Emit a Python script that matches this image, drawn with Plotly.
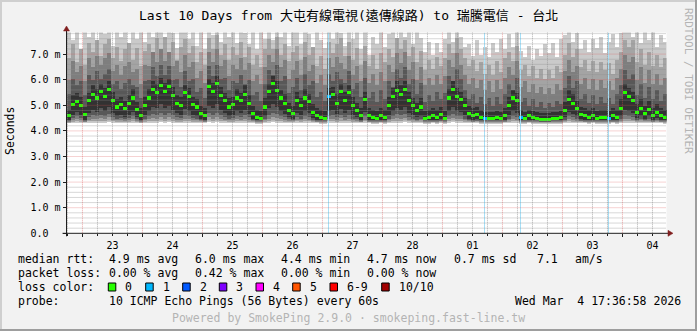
import numpy as np
import pandas as pd
import plotly.graph_objects as go

# ---------------- data ----------------
T_START = "2026-02-22 17:36:58"
T_END = "2026-03-04 17:36:58"
N_STEPS = 150
STEP_MIN = 96

median_ms = [
    4.60, 5.05, 5.15, 5.00, 4.65, 5.20, 5.45, 5.30, 5.55, 5.35,
    5.65, 5.20, 4.95, 5.05, 4.90, 5.10, 5.30, 4.85, 4.60, 5.00,
    5.30, 5.65, 5.50, 5.80, 5.55, 5.75, 5.40, 5.10, 5.00, 5.50,
    5.35, 5.05, 4.95, 4.70, 4.60, 5.75, 5.55, 5.85, 5.40, 5.20,
    4.95, 5.05, 5.30, 5.20, 5.45, 5.10, 4.70, 4.55, 4.50, 4.95,
    5.55, 5.85, 5.60, 5.30, 5.10, 4.80, 4.70, 5.20, 5.00, 5.30,
    5.15, 4.75, 4.60, 4.55, 4.50, 5.35, 5.45, 5.10, 5.55, 5.20,
    5.50, 5.00, 4.80, 4.60, 5.25, 4.60, 4.55, 4.50, 4.60, 4.55,
    5.00, 5.35, 5.60, 5.45, 5.65, 5.20, 5.00, 4.80, 4.95, 4.50,
    4.55, 4.60, 4.55, 4.65, 4.50, 5.30, 5.65, 5.35, 5.25, 5.00,
    4.70, 4.60, 4.65, 4.55, 4.50, 4.50, 4.50, 4.55, 4.50, 4.60,
    5.00, 5.30, 5.20, 4.55, 4.50, 4.60, 4.55, 4.50, 4.45, 4.45,
    4.45, 4.50, 4.50, 4.55, 4.80, 5.25, 5.10, 4.90, 4.65, 4.60,
    4.55, 4.60, 4.50, 4.55, 4.55, 4.50, 4.60, 4.55, 4.90, 5.50,
    5.35, 5.20, 4.75, 4.90, 4.70, 4.85, 4.60, 4.75, 4.60, 4.55,
]

loss_count = [
    0, 0, 0, 0, 0, 0, 0, 0, 0, 0,
    0, 0, 0, 0, 0, 0, 0, 0, 0, 0,
    0, 0, 0, 0, 0, 0, 0, 0, 0, 0,
    0, 0, 0, 0, 0, 0, 0, 0, 0, 0,
    0, 0, 0, 0, 0, 0, 0, 0, 0, 0,
    0, 0, 0, 0, 0, 0, 0, 0, 0, 0,
    0, 0, 0, 0, 0, 1, 0, 0, 0, 0,
    0, 0, 0, 0, 0, 0, 0, 0, 0, 0,
    0, 0, 0, 0, 0, 0, 0, 0, 0, 0,
    0, 0, 0, 0, 0, 0, 0, 0, 0, 0,
    0, 0, 0, 0, 1, 0, 0, 0, 0, 0,
    0, 0, 0, 1, 0, 0, 0, 0, 0, 0,
    0, 0, 0, 0, 0, 0, 0, 0, 0, 0,
    0, 0, 0, 0, 0, 1, 0, 0, 0, 0,
    0, 0, 0, 0, 0, 0, 0, 0, 0, 0,
]

# sorted ping rtts (ms): ping1 (fastest) ... ping10 (slowest)
ping1 = [
    4.31, 4.32, 4.33, 4.32, 4.31, 4.33, 4.34, 4.33, 4.34, 4.33,
    4.35, 4.33, 4.32, 4.32, 4.32, 4.32, 4.33, 4.32, 4.31, 4.32,
    4.33, 4.34, 4.34, 4.35, 4.34, 4.35, 4.33, 4.32, 4.32, 4.34,
    4.33, 4.32, 4.32, 4.31, 4.31, 4.35, 4.34, 4.35, 4.33, 4.33,
    4.32, 4.32, 4.33, 4.33, 4.34, 4.32, 4.31, 4.30, 4.30, 4.32,
    4.34, 4.35, 4.34, 4.33, 4.32, 4.32, 4.31, 4.33, 4.32, 4.33,
    4.33, 4.31, 4.31, 4.30, 4.30, 4.33, 4.34, 4.32, 4.34, 4.33,
    4.34, 4.32, 4.31, 4.31, 4.33, 4.31, 4.30, 4.30, 4.31, 4.30,
    4.32, 4.33, 4.34, 4.34, 4.35, 4.33, 4.32, 4.31, 4.32, 4.30,
    4.30, 4.31, 4.30, 4.31, 4.30, 4.33, 4.35, 4.33, 4.33, 4.32,
    4.31, 4.31, 4.31, 4.30, 4.30, 4.30, 4.30, 4.30, 4.30, 4.31,
    4.32, 4.33, 4.33, 4.30, 4.30, 4.31, 4.30, 4.30, 4.29, 4.29,
    4.29, 4.30, 4.30, 4.30, 4.31, 4.33, 4.32, 4.32, 4.31, 4.31,
    4.30, 4.31, 4.30, 4.30, 4.30, 4.30, 4.31, 4.30, 4.32, 4.34,
    4.34, 4.33, 4.31, 4.32, 4.31, 4.32, 4.31, 4.31, 4.31, 4.30,
]
ping2 = [
    4.34, 4.38, 4.40, 4.38, 4.35, 4.39, 4.41, 4.40, 4.42, 4.40,
    4.43, 4.39, 4.37, 4.38, 4.37, 4.38, 4.40, 4.37, 4.34, 4.37,
    4.40, 4.42, 4.41, 4.44, 4.41, 4.43, 4.40, 4.38, 4.38, 4.41,
    4.40, 4.38, 4.37, 4.36, 4.35, 4.43, 4.41, 4.44, 4.40, 4.39,
    4.37, 4.38, 4.40, 4.39, 4.41, 4.38, 4.36, 4.34, 4.34, 4.37,
    4.41, 4.44, 4.42, 4.40, 4.38, 4.37, 4.36, 4.39, 4.37, 4.40,
    4.39, 4.36, 4.35, 4.34, 4.34, 4.40, 4.41, 4.38, 4.42, 4.39,
    4.41, 4.37, 4.36, 4.35, 4.39, 4.35, 4.34, 4.34, 4.35, 4.34,
    4.37, 4.40, 4.42, 4.41, 4.43, 4.39, 4.37, 4.36, 4.37, 4.34,
    4.34, 4.35, 4.34, 4.35, 4.34, 4.40, 4.43, 4.40, 4.39, 4.37,
    4.36, 4.35, 4.35, 4.34, 4.34, 4.34, 4.34, 4.34, 4.34, 4.35,
    4.37, 4.40, 4.39, 4.34, 4.33, 4.35, 4.34, 4.33, 4.33, 4.33,
    4.33, 4.34, 4.34, 4.34, 4.36, 4.39, 4.38, 4.37, 4.35, 4.35,
    4.34, 4.35, 4.34, 4.34, 4.34, 4.34, 4.35, 4.34, 4.37, 4.41,
    4.40, 4.39, 4.36, 4.37, 4.35, 4.37, 4.35, 4.36, 4.35, 4.34,
]
ping3 = [
    4.37, 4.44, 4.47, 4.44, 4.38, 4.46, 4.50, 4.47, 4.52, 4.48,
    4.54, 4.46, 4.43, 4.45, 4.42, 4.45, 4.47, 4.42, 4.37, 4.43,
    4.48, 4.52, 4.50, 4.55, 4.50, 4.54, 4.49, 4.45, 4.44, 4.50,
    4.48, 4.44, 4.43, 4.40, 4.38, 4.54, 4.50, 4.55, 4.48, 4.46,
    4.43, 4.44, 4.48, 4.46, 4.49, 4.45, 4.40, 4.37, 4.37, 4.43,
    4.50, 4.55, 4.52, 4.48, 4.45, 4.42, 4.40, 4.46, 4.43, 4.48,
    4.46, 4.41, 4.38, 4.37, 4.37, 4.48, 4.50, 4.45, 4.51, 4.46,
    4.49, 4.43, 4.41, 4.38, 4.46, 4.38, 4.37, 4.37, 4.38, 4.37,
    4.43, 4.48, 4.51, 4.49, 4.52, 4.46, 4.43, 4.41, 4.43, 4.37,
    4.37, 4.38, 4.37, 4.39, 4.37, 4.48, 4.52, 4.48, 4.47, 4.43,
    4.40, 4.38, 4.39, 4.37, 4.36, 4.36, 4.36, 4.37, 4.36, 4.38,
    4.43, 4.48, 4.46, 4.37, 4.36, 4.38, 4.37, 4.36, 4.35, 4.35,
    4.35, 4.36, 4.36, 4.37, 4.41, 4.47, 4.45, 4.42, 4.39, 4.38,
    4.37, 4.38, 4.36, 4.37, 4.37, 4.36, 4.38, 4.37, 4.42, 4.49,
    4.48, 4.46, 4.40, 4.43, 4.39, 4.42, 4.38, 4.40, 4.38, 4.37,
]
ping4 = [
    4.40, 4.52, 4.58, 4.52, 4.41, 4.55, 4.62, 4.58, 4.65, 4.60,
    4.68, 4.55, 4.50, 4.52, 4.48, 4.52, 4.58, 4.48, 4.40, 4.50,
    4.60, 4.68, 4.65, 4.72, 4.65, 4.70, 4.62, 4.55, 4.52, 4.65,
    4.60, 4.52, 4.50, 4.44, 4.41, 4.70, 4.65, 4.72, 4.62, 4.56,
    4.50, 4.52, 4.60, 4.56, 4.62, 4.54, 4.44, 4.40, 4.40, 4.50,
    4.65, 4.72, 4.68, 4.60, 4.54, 4.48, 4.44, 4.56, 4.50, 4.60,
    4.56, 4.46, 4.41, 4.40, 4.40, 4.60, 4.62, 4.54, 4.65, 4.56,
    4.62, 4.50, 4.47, 4.41, 4.58, 4.41, 4.40, 4.40, 4.41, 4.40,
    4.50, 4.60, 4.66, 4.62, 4.68, 4.56, 4.50, 4.46, 4.50, 4.40,
    4.40, 4.41, 4.40, 4.42, 4.40, 4.60, 4.68, 4.60, 4.58, 4.50,
    4.44, 4.41, 4.42, 4.40, 4.39, 4.39, 4.39, 4.40, 4.39, 4.41,
    4.50, 4.60, 4.56, 4.40, 4.39, 4.41, 4.40, 4.39, 4.37, 4.37,
    4.37, 4.39, 4.39, 4.40, 4.46, 4.58, 4.54, 4.48, 4.42, 4.41,
    4.40, 4.41, 4.39, 4.40, 4.40, 4.39, 4.41, 4.40, 4.48, 4.62,
    4.60, 4.56, 4.45, 4.50, 4.44, 4.48, 4.41, 4.44, 4.41, 4.40,
]
ping5 = [
    4.45, 4.65, 4.75, 4.65, 4.46, 4.70, 4.85, 4.75, 4.90, 4.80,
    4.95, 4.70, 4.60, 4.65, 4.55, 4.65, 4.75, 4.55, 4.45, 4.62,
    4.78, 4.95, 4.90, 5.05, 4.90, 5.00, 4.85, 4.70, 4.65, 4.88,
    4.80, 4.65, 4.60, 4.50, 4.46, 5.00, 4.90, 5.05, 4.85, 4.72,
    4.60, 4.65, 4.80, 4.72, 4.85, 4.68, 4.50, 4.45, 4.44, 4.60,
    4.90, 5.05, 4.95, 4.78, 4.68, 4.55, 4.50, 4.72, 4.62, 4.78,
    4.70, 4.52, 4.46, 4.45, 4.44, 4.78, 4.85, 4.68, 4.88, 4.72,
    4.85, 4.62, 4.55, 4.46, 4.75, 4.46, 4.45, 4.44, 4.46, 4.45,
    4.62, 4.78, 4.92, 4.85, 4.95, 4.72, 4.62, 4.55, 4.60, 4.44,
    4.45, 4.46, 4.45, 4.48, 4.44, 4.78, 4.95, 4.80, 4.75, 4.62,
    4.50, 4.46, 4.48, 4.45, 4.43, 4.43, 4.43, 4.45, 4.43, 4.46,
    4.62, 4.78, 4.72, 4.45, 4.43, 4.46, 4.45, 4.43, 4.40, 4.40,
    4.40, 4.43, 4.43, 4.45, 4.55, 4.75, 4.68, 4.58, 4.48, 4.46,
    4.45, 4.46, 4.43, 4.45, 4.45, 4.43, 4.46, 4.45, 4.58, 4.85,
    4.78, 4.72, 4.52, 4.60, 4.50, 4.58, 4.46, 4.52, 4.46, 4.45,
]
ping6 = [
    4.85, 5.40, 5.50, 5.35, 4.95, 5.50, 5.80, 5.65, 5.85, 5.70,
    5.95, 5.55, 5.25, 5.35, 5.20, 5.40, 5.65, 5.15, 4.90, 5.35,
    5.65, 5.95, 5.85, 6.10, 5.90, 6.05, 5.75, 5.40, 5.35, 5.80,
    5.70, 5.35, 5.25, 5.00, 4.90, 6.05, 5.90, 6.15, 5.75, 5.50,
    5.30, 5.35, 5.65, 5.50, 5.80, 5.40, 5.00, 4.85, 4.80, 5.30,
    5.85, 6.15, 5.95, 5.60, 5.45, 5.10, 5.00, 5.55, 5.30, 5.65,
    5.45, 5.05, 4.90, 4.85, 4.80, 5.70, 5.75, 5.45, 5.85, 5.55,
    5.80, 5.35, 5.10, 4.90, 5.55, 4.90, 4.85, 4.80, 4.90, 4.85,
    5.35, 5.70, 5.95, 5.80, 5.95, 5.55, 5.30, 5.10, 5.30, 4.80,
    4.85, 4.90, 4.85, 4.95, 4.80, 5.65, 5.95, 5.70, 5.55, 5.30,
    5.00, 4.90, 4.95, 4.85, 4.75, 4.75, 4.75, 4.80, 4.75, 4.90,
    5.35, 5.60, 5.50, 4.85, 4.75, 4.85, 4.80, 4.75, 4.70, 4.70,
    4.70, 4.75, 4.75, 4.80, 5.15, 5.60, 5.45, 5.20, 4.95, 4.90,
    4.85, 4.90, 4.80, 4.85, 4.85, 4.80, 4.90, 4.85, 5.25, 5.85,
    5.70, 5.55, 5.05, 5.25, 5.00, 5.20, 4.90, 5.05, 4.90, 4.85,
]
ping7 = [
    5.45, 6.05, 5.80, 5.95, 5.40, 6.20, 6.00, 6.35, 6.05, 6.25,
    6.45, 5.85, 5.95, 5.65, 5.90, 6.05, 5.80, 5.75, 5.30, 5.95,
    6.00, 6.50, 6.15, 6.60, 6.20, 6.55, 6.00, 6.05, 5.75, 6.35,
    5.95, 6.05, 5.55, 5.70, 5.30, 6.55, 6.15, 6.60, 6.05, 6.10,
    5.60, 5.95, 5.90, 6.20, 5.85, 6.00, 5.40, 5.55, 5.20, 5.85,
    6.40, 6.20, 6.60, 5.95, 6.15, 5.50, 5.75, 6.10, 5.60, 6.25,
    5.80, 5.95, 5.35, 5.55, 5.20, 6.25, 5.95, 6.30, 6.05, 5.90,
    6.35, 5.65, 5.90, 5.35, 6.10, 5.30, 5.55, 5.15, 5.60, 5.25,
    5.95, 5.75, 6.45, 6.10, 6.50, 5.85, 6.05, 5.45, 5.90, 5.15,
    5.40, 5.20, 5.55, 5.25, 5.50, 6.15, 5.95, 6.45, 6.05, 5.60,
    5.25, 5.45, 5.10, 5.35, 5.05, 5.30, 5.00, 5.35, 5.05, 5.45,
    5.85, 5.60, 6.10, 5.15, 5.30, 5.00, 5.25, 4.95, 5.15, 4.90,
    5.10, 4.95, 5.20, 5.05, 5.70, 6.15, 5.70, 5.95, 5.25, 5.45,
    5.10, 5.40, 5.05, 5.35, 5.10, 5.30, 5.05, 5.45, 5.80, 6.40,
    6.05, 6.25, 5.40, 5.85, 5.30, 5.75, 5.25, 5.60, 5.20, 5.45,
]
ping8 = [
    6.00, 6.75, 6.30, 6.55, 5.95, 6.85, 6.50, 6.95, 6.60, 6.85,
    7.05, 6.35, 6.60, 6.20, 6.55, 6.70, 6.30, 6.45, 5.85, 6.60,
    6.55, 7.10, 6.70, 7.20, 6.75, 7.10, 6.55, 6.75, 6.30, 7.00,
    6.50, 6.70, 6.10, 6.35, 5.90, 7.10, 6.70, 7.20, 6.55, 6.80,
    6.15, 6.60, 6.45, 6.85, 6.40, 6.65, 5.95, 6.20, 5.85, 6.50,
    7.00, 6.70, 7.20, 6.50, 6.80, 6.05, 6.40, 6.75, 6.20, 6.90,
    6.35, 6.60, 5.90, 6.20, 5.80, 6.85, 6.50, 6.90, 6.65, 6.45,
    6.95, 6.20, 6.55, 5.95, 6.75, 5.90, 6.25, 5.80, 6.30, 5.95,
    6.60, 6.30, 7.05, 6.65, 7.10, 6.40, 6.70, 6.00, 6.50, 5.80,
    6.10, 5.80, 6.20, 5.85, 6.15, 6.80, 6.50, 7.05, 6.60, 6.20,
    5.85, 6.10, 5.70, 6.00, 5.60, 5.95, 5.55, 6.00, 5.65, 6.10,
    6.50, 6.20, 6.75, 5.75, 5.95, 5.55, 5.85, 5.50, 5.75, 5.45,
    5.70, 5.45, 5.85, 5.60, 6.35, 6.80, 6.30, 6.55, 5.85, 6.10,
    5.65, 6.05, 5.60, 6.00, 5.70, 5.95, 5.60, 6.10, 6.45, 7.00,
    6.70, 6.90, 6.00, 6.50, 5.90, 6.40, 5.85, 6.25, 5.80, 6.10,
]
ping9 = [
    6.85, 7.40, 6.70, 7.20, 6.60, 7.45, 7.10, 7.55, 6.95, 7.40,
    7.60, 6.85, 7.30, 6.75, 7.20, 7.45, 6.80, 7.25, 6.55, 7.15,
    7.40, 7.00, 7.65, 7.20, 7.70, 7.10, 7.50, 6.80, 7.30, 7.60,
    7.05, 7.35, 6.70, 7.10, 6.60, 7.65, 7.20, 7.75, 7.00, 7.40,
    6.80, 7.30, 7.00, 7.50, 6.90, 7.30, 6.60, 7.00, 6.50, 7.20,
    7.60, 7.20, 7.70, 7.00, 7.40, 6.75, 7.10, 7.35, 6.80, 7.50,
    7.00, 7.30, 6.55, 6.95, 6.45, 7.50, 7.05, 7.40, 7.65, 6.95,
    7.50, 6.80, 7.25, 6.60, 7.35, 6.55, 7.00, 6.45, 7.05, 6.70,
    7.20, 6.90, 7.65, 7.20, 7.55, 6.95, 7.30, 6.70, 7.15, 6.40,
    6.80, 6.45, 6.90, 6.55, 6.85, 7.40, 7.05, 7.65, 7.20, 6.85,
    6.55, 6.80, 6.35, 6.70, 6.25, 6.60, 6.20, 6.75, 6.30, 6.85,
    7.10, 6.75, 7.35, 6.40, 6.60, 6.15, 6.55, 6.10, 6.45, 6.05,
    6.40, 6.10, 6.55, 6.30, 7.00, 7.45, 6.90, 7.20, 6.50, 6.80,
    6.35, 6.75, 6.30, 6.70, 6.40, 6.65, 6.25, 6.80, 7.10, 7.55,
    7.30, 7.55, 6.70, 7.20, 6.60, 7.10, 6.55, 7.00, 6.50, 6.85,
]
ping10 = [
    8.10, 7.55, 8.00, 7.20, 8.10, 7.70, 8.20, 7.45, 8.05, 7.80,
    8.10, 7.35, 7.95, 7.70, 8.00, 7.30, 7.95, 7.60, 8.10, 7.50,
    8.20, 7.70, 8.10, 8.30, 7.40, 8.00, 7.85, 7.25, 7.95, 8.05,
    7.60, 8.05, 7.35, 7.90, 7.20, 8.10, 7.75, 8.20, 7.50, 7.95,
    7.70, 8.00, 7.45, 8.05, 7.85, 7.40, 8.00, 7.20, 7.90, 7.60,
    8.10, 7.55, 8.20, 7.70, 8.00, 7.35, 7.90, 8.05, 7.40, 7.95,
    7.80, 7.30, 8.00, 7.55, 7.25, 8.00, 7.60, 8.10, 7.85, 7.35,
    8.00, 7.60, 7.95, 7.20, 7.90, 7.00, 7.70, 7.40, 7.95, 7.30,
    7.80, 8.10, 7.55, 8.20, 7.70, 8.05, 7.40, 7.90, 7.65, 7.10,
    7.50, 7.00, 7.45, 7.10, 7.60, 8.00, 7.50, 8.05, 7.70, 7.30,
    7.40, 6.95, 7.55, 7.00, 7.30, 6.90, 7.45, 7.10, 7.60, 7.20,
    7.80, 7.30, 7.90, 7.15, 6.90, 7.35, 6.80, 7.20, 6.95, 7.40,
    7.05, 7.45, 6.90, 7.60, 7.75, 8.10, 7.50, 7.85, 7.20, 7.55,
    7.10, 7.60, 7.25, 7.70, 7.05, 7.50, 7.80, 7.30, 7.85, 8.20,
    8.10, 7.70, 8.00, 7.45, 7.90, 7.55, 8.05, 7.30, 7.75, 7.50,
]

y_ticks = [0, 1, 2, 3, 4, 5, 6, 7]
y_ticklabels = ["0.0\u00a0\u00a0", "1.0 m", "2.0 m", "3.0 m", "4.0 m", "5.0 m", "6.0 m", "7.0 m"]
Y_MAX = 7.84

loss_legend_labels = ["0", "1", "2", "3", "4", "5", "6-9", "10/10"]
loss_legend_colors = ["#26ff00", "#00b8ff", "#0059ff", "#7e00ff", "#ff00ff", "#ff5500", "#ff0000", "#a10000"]
loss_color_by_count = {0: "#26ff00", 1: "#00b8ff", 2: "#0059ff", 3: "#7e00ff", 4: "#ff00ff", 5: "#ff5500"}

stats_rtt = ["4.9 ms avg", "6.0 ms max", "4.4 ms min", "4.7 ms now", "0.7 ms sd", "7.1", "am/s"]
stats_loss = ["0.00 % avg", "0.42 % max", "0.00 % min", "0.00 % now"]

TITLE = "Last 10 Days from 大屯有線電視(遠傳線路) to 瑞騰電信 - 台北"
PROBE = "10 ICMP Echo Pings (56 Bytes) every 60s"
STAMP = "Wed Mar\u00a0\u00a04 17:36:58 2026"
FOOTER = "Powered by SmokePing 2.9.0 · smokeping.fast-line.tw"

# ---------------- layout geometry (pixels) ----------------
W, H = 697, 331
PL, PR, PT, PB = 66.5, 666.5, 32.6, 233.3
FONT = "DejaVu Sans Mono, Noto Sans CJK TC, monospace"


def px(x):
    return x / W


def py(y):
    return 1 - y / H


t0 = pd.Timestamp(T_START)
t1 = pd.Timestamp(T_END)
step = pd.Timedelta(minutes=STEP_MIN)
centers = pd.date_range(t0 + step / 2, periods=N_STEPS, freq=step)
width_ms = STEP_MIN * 60 * 1000

pings = [np.array(p) for p in (ping1, ping2, ping3, ping4, ping5, ping6, ping7, ping8, ping9, ping10)]
smoke_cols = ["#cacaca", "#a4a4a4", "#7e7e7e", "#585858", "#323232"]

fig = go.Figure()


def add_band(k):
    lo = pings[k]
    hi = pings[9 - k]
    fig.add_trace(go.Bar(
        x=centers, y=hi - lo, base=lo, width=width_ms,
        marker=dict(color=smoke_cols[k], line=dict(width=0)),
        hoverinfo="skip", showlegend=False,
    ))


add_band(0)

# loss bars (behind the darker smoke)
lx, ly = [], []
for c, n in zip(centers, loss_count):
    if n > 0:
        lx += [c, c, None]
        ly += [0, Y_MAX, None]
fig.add_trace(go.Scatter(x=lx, y=ly, mode="lines", line=dict(color="#a6e0f8", width=1),
                         hoverinfo="skip", showlegend=False))

for k in range(1, 5):
    add_band(k)

med = np.array(median_ms)
MED_H = 0.12
fig.add_trace(go.Bar(
    x=centers, y=[MED_H] * N_STEPS, base=med - MED_H / 2, width=width_ms,
    marker=dict(color=[loss_color_by_count[n] for n in loss_count], line=dict(width=0)),
    hoverinfo="skip", showlegend=False,
))

# ---------------- grid (drawn above data like rrdtool) ----------------
shapes = []
GRID = "rgba(143,143,143,0.7)"
MGRID = "rgba(222,79,79,0.5)"
DASH = "1px,1px"
midnights = pd.date_range("2026-02-23", "2026-03-04", freq="D")
sixh = pd.date_range("2026-02-22 18:00", t1, freq="6h")
for t in sixh:
    if t.hour != 0:
        shapes.append(dict(type="line", xref="x", yref="y domain", x0=t, x1=t, y0=0, y1=1,
                           line=dict(color=GRID, width=1, dash=DASH), layer="above"))
for v in np.arange(0.2, Y_MAX, 0.2):
    if abs(v - round(v)) > 1e-6:
        shapes.append(dict(type="line", xref="x domain", yref="y", x0=0, x1=1, y0=v, y1=v,
                           line=dict(color=GRID, width=1, dash=DASH), layer="above"))
for t in midnights:
    shapes.append(dict(type="line", xref="x", yref="y domain", x0=t, x1=t, y0=0, y1=1,
                       line=dict(color=MGRID, width=1, dash=DASH), layer="above"))
for v in y_ticks[1:]:
    shapes.append(dict(type="line", xref="x domain", yref="y", x0=0, x1=1, y0=v, y1=v,
                       line=dict(color=MGRID, width=1, dash=DASH), layer="above"))

# axes lines and arrows
AX = "#1f1f1f"
ARROW = "#801f1f"
shapes.append(dict(type="line", xref="paper", yref="paper", x0=px(PL), x1=px(PL), y0=py(PB + 3), y1=py(30),
                   line=dict(color=AX, width=1), layer="above"))
shapes.append(dict(type="line", xref="paper", yref="paper", x0=px(PL - 4), x1=px(669), y0=py(PB), y1=py(PB),
                   line=dict(color=AX, width=1), layer="above"))
shapes.append(dict(type="path", xref="paper", yref="paper",
                   path=f"M {px(PL-3)} {py(31)} L {px(PL+3)} {py(31)} L {px(PL)} {py(26)} Z",
                   fillcolor=ARROW, line=dict(color=ARROW, width=0.5), layer="above"))
shapes.append(dict(type="path", xref="paper", yref="paper",
                   path=f"M {px(668)} {py(PB-3)} L {px(668)} {py(PB+3)} L {px(673)} {py(PB)} Z",
                   fillcolor=ARROW, line=dict(color=ARROW, width=0.5), layer="above"))

# image border shading
shapes += [
    dict(type="rect", xref="paper", yref="paper", x0=0, x1=px(2), y0=0, y1=1, fillcolor="#cfcfcf", line=dict(width=0)),
    dict(type="rect", xref="paper", yref="paper", x0=0, x1=1, y0=py(2), y1=1, fillcolor="#cfcfcf", line=dict(width=0)),
    dict(type="rect", xref="paper", yref="paper", x0=px(W - 2), x1=1, y0=0, y1=1, fillcolor="#9e9e9e", line=dict(width=0)),
    dict(type="rect", xref="paper", yref="paper", x0=0, x1=1, y0=0, y1=py(H - 2), fillcolor="#9e9e9e", line=dict(width=0)),
]

# ---------------- texts ----------------
ann = []


def text(x, y, s, size=11.5, color="#000000", xanchor="left", angle=0):
    ann.append(dict(x=px(x), y=py(y), xref="paper", yref="paper", text=s, showarrow=False,
                    xanchor=xanchor, yanchor="middle", textangle=angle,
                    font=dict(family=FONT, size=size, color=color)))


text(348, 15.5, TITLE, size=13, xanchor="center")
text(10, 131, "Seconds", size=11.5, xanchor="center", angle=-90)
text(688, 81, "RRDTOOL / TOBI OETIKER", size=11, color="#b4b4b4", xanchor="center", angle=90)

ROW1, ROW2, ROW3, ROW4 = 259.3, 273.3, 287, 301
text(16, ROW1, "median rtt:")
for s, x in zip(stats_rtt, [107.3, 193.3, 279.3, 365, 451.7, 535, 572.7]):
    text(x, ROW1, s)
text(16, ROW2, "packet loss:")
for s, x in zip(stats_loss, [107.3, 193.3, 279.3, 365]):
    text(x, ROW2, s)
text(16, ROW3, "loss color:")
box_x = [108.3, 145.7, 182.7, 219.3, 256, 292.7, 330, 381.7]
for lab, col, bx in zip(loss_legend_labels, loss_legend_colors, box_x):
    shapes.append(dict(type="rect", xref="paper", yref="paper", x0=px(bx), x1=px(bx + 7.5),
                       y0=py(ROW3 + 4), y1=py(ROW3 - 4), fillcolor=col,
                       line=dict(color="#000000", width=1)))
    text(bx + 15, ROW3, lab)
text(16, ROW4, "probe:")
text(107.3, ROW4, PROBE)
text(513.3, ROW4, STAMP)
text(348.5, 318.3, FOOTER, color="#b4b4b4", xanchor="center")

fig.update_layout(
    width=W, height=H,
    margin=dict(l=0, r=0, t=0, b=0),
    paper_bgcolor="#f2f2f2",
    plot_bgcolor="#ffffff",
    barmode="overlay",
    bargap=0,
    showlegend=False,
    shapes=shapes,
    annotations=ann,
    xaxis=dict(
        type="date", range=[t0, t1], domain=[px(PL), px(PR)],
        tick0="2026-02-23", dtick=86400000, tickformat="%d", ticklabelmode="period",
        ticks="outside", ticklen=3, tickcolor=AX, showgrid=False, showline=False, zeroline=False,
        tickfont=dict(family=FONT, size=10, color="#000000"),
        minor=dict(dtick=6 * 3600 * 1000, tick0="2026-02-23", ticks="outside", ticklen=2, tickcolor=AX, showgrid=False),
        automargin=False, fixedrange=True,
    ),
    yaxis=dict(
        range=[0, Y_MAX], domain=[py(PB), py(PT)],
        tickvals=y_ticks, ticktext=y_ticklabels,
        ticks="outside", ticklen=3, tickcolor=AX, showgrid=False, showline=False, zeroline=False,
        tickfont=dict(family=FONT, size=10, color="#000000"),
        automargin=False, fixedrange=True,
    ),
)

fig.write_html("out.html")
